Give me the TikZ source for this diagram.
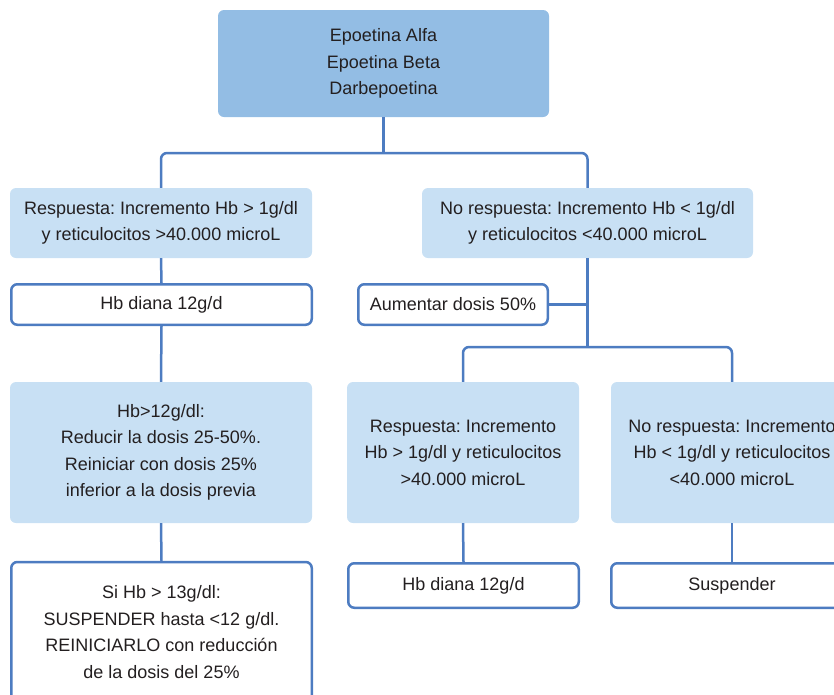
\documentclass[tikz,border=0pt]{standalone}
\usepackage{fontspec}
\setmainfont{Liberation Sans}
\frenchspacing
\definecolor{CajaOscura}{HTML}{93BDE4}
\definecolor{CajaClara}{HTML}{C8E0F4}
\definecolor{Conector}{HTML}{4D7CC1}
\definecolor{Texto}{HTML}{231F20}
\usetikzlibrary{calc}
\tikzset{
    caja/.style={rectangle, rounded corners=6pt, align=center, text=Texto,
        font=\fontsize{18}{26.5}\selectfont, inner sep=0pt},
    caja oscura/.style={caja, fill=CajaOscura},
    caja clara/.style={caja, fill=CajaClara},
    caja borde/.style={caja, draw=Conector, line width=2.5pt, fill=white},
    conector/.style={draw=Conector, line width=2.5pt, rounded corners=6pt}
}

\begin{document}
\begin{tikzpicture}[x=1pt, y=-1pt]

\useasboundingbox (0,0) rectangle (834,694);
\clip (0,0) rectangle (834,694);

% Tratamiento inicial
\node[caja oscura, minimum width=331pt, minimum height=107pt] (inicio) at (383.5,63.5)
    {Epoetina Alfa\\Epoetina Beta\\Darbepoetina};

% Primera evaluacion
\node[caja clara, minimum width=302pt, minimum height=70pt] (resp) at (161,223)
    {Respuesta: Incremento Hb > 1g/dl\\y reticulocitos >40.000 microL};
\node[caja clara, minimum width=331pt, minimum height=70pt] (noresp) at (587.5,223)
    {No respuesta: Incremento Hb < 1g/dl\\y reticulocitos <40.000 microL};

\node[caja borde, minimum width=300.5pt, minimum height=40.5pt] (diana) at (161.5,304.5)
    {Hb diana 12g/d};
\node[caja borde, minimum width=189.5pt, minimum height=40.5pt] (aumentar) at (453,304.5)
    {Aumentar dosis 50\%};

% Rama de respuesta
\node[caja clara, minimum width=302pt, minimum height=141pt] (reducir) at (161,452.5)
    {Hb>12g/dl:\\Reducir la dosis 25-50\%.\\Reiniciar con dosis 25\%\\inferior a la dosis previa};
\node[caja borde, minimum width=300.5pt, minimum height=140pt] (suspHb) at (161.5,632)
    {Si Hb > 13g/dl:\\SUSPENDER hasta <12 g/dl.\\REINICIARLO con reducción\\de la dosis del 25\%};

% Segunda evaluacion, tras aumentar la dosis
\node[caja clara, minimum width=232pt, minimum height=141pt] (resp2) at (463,452.5)
    {Respuesta: Incremento\\Hb > 1g/dl y reticulocitos\\>40.000 microL};
\node[caja clara, minimum width=242pt, minimum height=141pt] (noresp2) at (732,452.5)
    {No respuesta: Incremento\\Hb < 1g/dl y reticulocitos\\<40.000 microL};

\node[caja borde, minimum width=230.5pt, minimum height=44.5pt] (diana2) at (463.5,585.5)
    {Hb diana 12g/d};
\node[caja borde, minimum width=241.5pt, minimum height=44.5pt] (suspender) at (732,585.5)
    {Suspender};

% Conectores
\coordinate (rama1) at (inicio.south |- 0,153);
\coordinate (rama2) at (noresp.south |- 0,347);

\draw[conector] (inicio.south) -- (rama1);
\draw[conector] (resp.north) |- (rama1) -| (noresp.north);

\draw[conector] (resp.south) -- (diana.north);
\draw[conector] (diana.south) -- (reducir.north);
\draw[conector] (reducir.south) -- (suspHb.north);

\draw[conector] (noresp.south) -- (rama2);
\draw[conector] (aumentar.east) -- (aumentar.east -| rama2);
\draw[conector] (resp2.north) |- (rama2) -| (noresp2.north);

\draw[conector] (resp2.south) -- (diana2.north);
\draw[conector] (noresp2.south) -- (suspender.north);

\end{tikzpicture}
\end{document}
